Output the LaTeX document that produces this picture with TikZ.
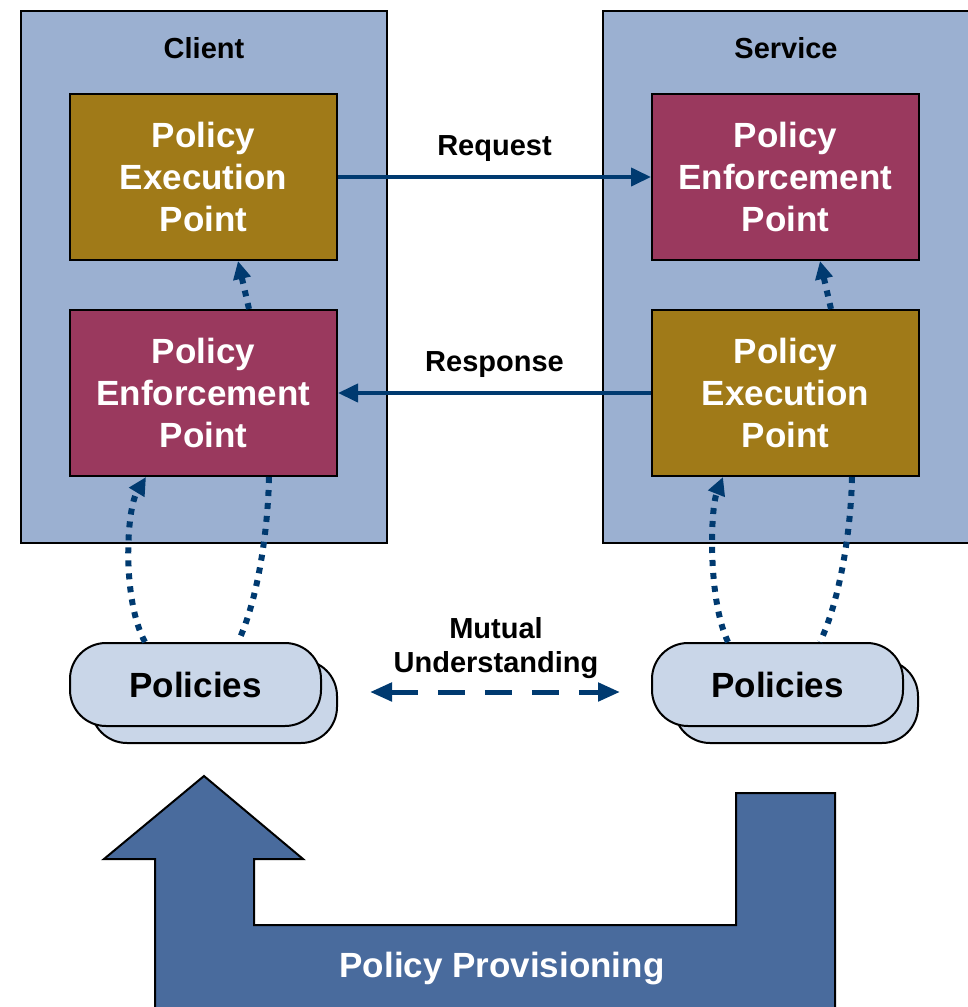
\documentclass[tikz,border=0pt]{standalone}
\usepackage{fontspec}
\setmainfont{Liberation Sans}
\usetikzlibrary{arrows.meta}
\definecolor{hostblue}{RGB}{155,176,209}
\definecolor{execgold}{RGB}{160,122,24}
\definecolor{enfred}{RGB}{154,57,94}
\definecolor{polblue}{RGB}{201,214,232}
\definecolor{navy}{RGB}{0,58,112}
\definecolor{provblue}{RGB}{73,107,157}
\tikzset{
  host/.style={draw=black, line width=2pt, fill=hostblue, minimum width=#1, minimum height=532pt, inner sep=0pt},
  point/.style={draw=black, line width=2pt, fill=#1, text=white, minimum width=267pt, minimum height=166pt,
    align=center, font=\bfseries\fontsize{35}{42}\selectfont, inner sep=0pt},
  polbox/.style={draw=black, line width=2pt, fill=polblue, rounded corners=36pt, minimum width=#1,
    minimum height=83pt, inner sep=0pt, font=\bfseries\fontsize{35}{42}\selectfont},
  lbl/.style={font=\bfseries\fontsize{29}{34}\selectfont, align=center},
  msg/.style={draw=navy, line width=4pt, -{Triangle[length=20pt,width=18pt]}},
  dots/.style={draw=navy, line width=6pt, dash pattern=on 6pt off 7pt},
  dotarrow/.style={dots, -{Triangle[length=18pt,width=17pt]}},
}
\begin{document}
\begin{tikzpicture}[x=1pt, y=-1pt]
  \useasboundingbox (0,0) rectangle (968,1007);
  \clip (0,0) rectangle (968,1007);

  \node[host=366pt] (client) at (204,277) {};
  \node[host=372pt] (service) at (789,277) {};
  \node[lbl] (clientlbl) at (204,48) {Client};
  \node[lbl] (servicelbl) at (786,48) {Service};

  \node[point=execgold] (cexec) at (203.5,177) {Policy\\Execution\\Point};
  \node[point=enfred] (cenf) at (203.5,393) {Policy\\Enforcement\\Point};
  \node[point=enfred] (senf) at (785.5,177) {Policy\\Enforcement\\Point};
  \node[point=execgold] (sexec) at (785.5,393) {Policy\\Execution\\Point};

  \draw[msg] (cexec.east) -- (senf.west) node[lbl, midway, above=10pt] (reqlbl) {Request};
  \draw[msg] (sexec.west) -- (cenf.east) node[lbl, midway, above=10pt] (resplbl) {Response};

  \draw[dotarrow] ([xshift=45.5pt]cenf.north) -- ([xshift=34.5pt]cexec.south);
  \draw[dotarrow] ([xshift=45.5pt]sexec.north) -- ([xshift=34.5pt]senf.south);

  % policy stacks
  \node[polbox=246pt] (cpolb) at (214,701.5) {};
  \node[polbox=251pt] (cpol) at (195.5,684.5) {Policies};
  \node[polbox=244pt] (spolb) at (796,701.5) {};
  \node[polbox=251pt] (spol) at (777.5,684.5) {Policies};

  \draw[dotarrow] ([xshift=-50.5pt]cpol.north) .. controls (122,600) and (126,510) .. ([xshift=-57.5pt]cenf.south);
  \draw[dots] ([xshift=65.5pt]cenf.south) .. controls (268,530) and (258,600) .. ([xshift=42.5pt]cpol.north);
  \draw[dotarrow] ([xshift=-49.5pt]spol.north) .. controls (708,600) and (710,510) .. ([xshift=-62.5pt]sexec.south);
  \draw[dots] ([xshift=66.5pt]sexec.south) .. controls (851,530) and (840,600) .. ([xshift=42.5pt]spol.north);

  \node[lbl] (mutual) at (496,648) {Mutual\\Understanding};
  \coordinate (mleft) at (370,692);
  \coordinate (mright) at (620,692);
  \draw[draw=navy, line width=5pt, dash pattern=on 27pt off 20pt,
    {Triangle[length=22pt,width=18pt]}-{Triangle[length=22pt,width=18pt]}] (mleft) -- (mright);

  % provisioning arrow
  \draw[line width=2pt, fill=provblue, line join=miter]
    (204,776) -- (303,859) -- (254,859) -- (254,925) -- (736,925) -- (736,793)
    -- (835,793) -- (835,1030) -- (155,1030) -- (155,859) -- (104,859) -- cycle;
  \node[lbl, text=white, font=\bfseries\fontsize{35}{42}\selectfont] (provlbl) at (502,969) {Policy Provisioning};
\end{tikzpicture}
\end{document}
